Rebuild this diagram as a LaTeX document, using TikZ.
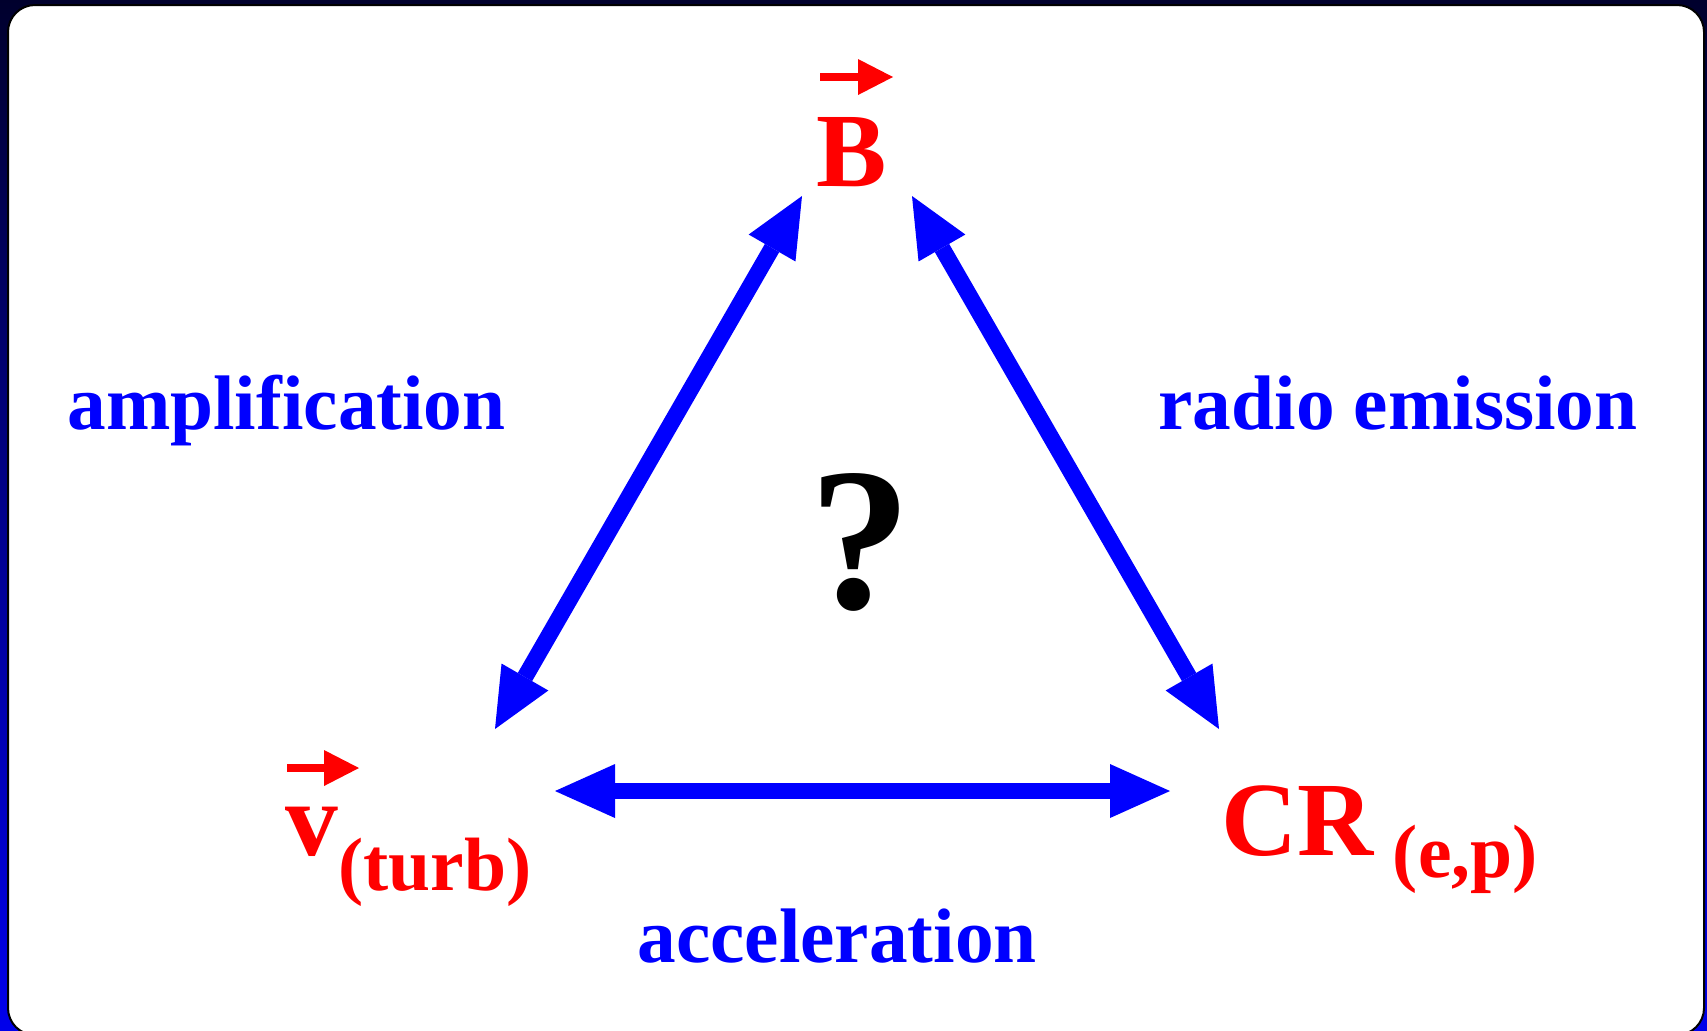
\documentclass[tikz,border=0pt]{standalone}
\usepackage{fontspec}
\setmainfont{Liberation Serif}
\usepackage{xcolor}
\usetikzlibrary{arrows.meta, positioning}
\definecolor{frameTop}{RGB}{0,0,45}
\definecolor{frameBot}{RGB}{0,0,235}
\newcommand{\lowsub}[2]{\raisebox{-#1}{\fontsize{21.5pt}{25pt}\selectfont #2}}
\tikzset{
    quantNode/.style={text=red, font=\bfseries\fontsize{30pt}{36pt}\selectfont, inner sep=0pt},
    procLabel/.style={text=blue, font=\bfseries\fontsize{22pt}{26pt}\selectfont, inner sep=0pt, anchor=base},
    linkArrow/.style={{Triangle[length=0.6cm, width=0.54cm, line width=0pt]}-{Triangle[length=0.6cm, width=0.54cm, line width=0pt]}, draw=blue, line width=0.165cm},
    vecArrow/.style={-{Triangle[length=0.35cm, width=0.36cm, line width=0pt]}, draw=red, line width=0.085cm}
}

\begin{document}
\begin{tikzpicture}
    \useasboundingbox (0,0) rectangle (17.07,-10.30);
    \clip (0,0) rectangle (17.07,-10.30);
    % frame and panel
    \shade[top color=frameTop, bottom color=frameBot] (0,0) rectangle (17.07,-10.30);
    \draw[fill=white, draw=black, line width=0.02cm, rounded corners=0.27cm] (0.08,-0.05) rectangle (17.04,-10.35);

    % the three quantities
    \node[quantNode, anchor=base] (B) at (8.52,-1.86) {B};
    \node[quantNode, anchor=base west] (v) at (2.85,-8.55) {v\lowsub{10pt}{(turb)}};
    \node[quantNode, anchor=base west] (CR) at (12.21,-8.55) {CR\lowsub{6.5pt}{\ (e,p)}};
    \draw[vecArrow] ([shift={(-0.32,1.09)}]B.base) -- ++(0.73,0);
    \draw[vecArrow] ([shift={(0.02,0.87)}]v.base west) -- ++(0.72,0);

    \node[anchor=base, font=\bfseries\fontsize{58pt}{60pt}\selectfont, inner sep=0pt] (Q) at (8.60,-6.08) {?};

    % couplings
    \draw[linkArrow] ([shift={(2.10,1.26)}]v.base west) -- ([shift={(-0.50,-0.10)}]B.base);
    \draw[linkArrow] ([shift={(0.60,-0.10)}]B.base) -- ([shift={(-0.02,1.26)}]CR.base west);
    \draw[linkArrow] ([shift={(2.70,0.64)}]v.base west) -- ([shift={(-0.51,0.64)}]CR.base west);

    \node[procLabel] (amp) at (2.865,-4.29) {amplification};
    \node[procLabel] (rad) at (13.98,-4.29) {radio emission};
    \node[procLabel] (acc) at (8.37,-9.62) {acceleration};
\end{tikzpicture}
\end{document}
